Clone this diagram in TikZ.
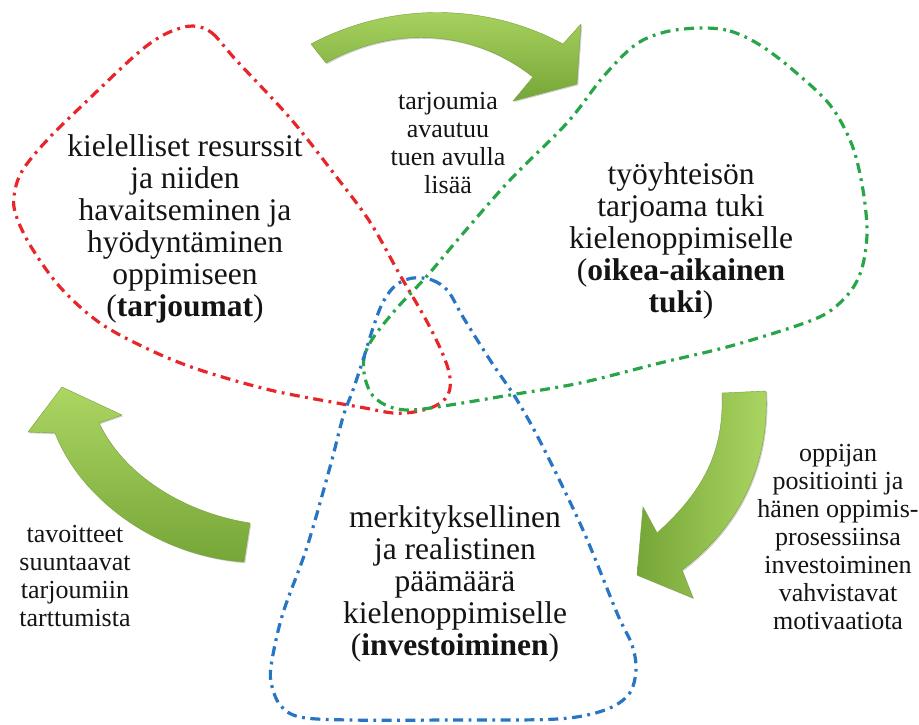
\documentclass[tikz,border=0pt]{standalone}
\usepackage{fontspec}
\setmainfont{Liberation Serif}
\usetikzlibrary{shadows}
\definecolor{redline}{RGB}{232,38,42}
\definecolor{greenline}{RGB}{40,165,72}
\definecolor{blueline}{RGB}{38,118,195}
\definecolor{arrowlight}{RGB}{172,214,98}
\definecolor{arrowdark}{RGB}{118,166,56}
\definecolor{arrowedge}{RGB}{120,160,60}
\definecolor{txt}{RGB}{20,20,20}
\tikzset{
  zone/.style={line width=3.2pt, dash pattern=on 10pt off 5.5pt on 2.8pt off 5.5pt},
  bigarrow/.style={draw=arrowedge, line width=0.4pt, line join=round,
    drop shadow={opacity=0.35, shadow xshift=1.2pt, shadow yshift=-1.2pt}},
  maintext/.style={align=center, text=txt, font=\fontsize{31.5}{32}\selectfont, inner sep=0pt},
  smalltext/.style={align=center, text=txt, font=\fontsize{26}{28}\selectfont, inner sep=0pt}
}
\begin{document}
\begin{tikzpicture}[x=1pt,y=-1pt]
\useasboundingbox[fill=white] (0,0) rectangle (919,724);

% curved green arrows
\path[bigarrow, top color=arrowlight, bottom color=arrowdark]
  (311,44) .. controls (390,2) and (485,2) .. (563,44)
  -- (581,24) -- (577,84) -- (513,101) -- (533,77)
  .. controls (470,27) and (390,27) .. (326,63) -- cycle;

\path[bigarrow, left color=arrowdark, right color=arrowlight]
  (722,393) -- (766,391)
  .. controls (770,470) and (735,530) .. (682,570)
  -- (693,598) -- (637,575) -- (643,507) -- (657,533)
  .. controls (705,490) and (724,450) .. (722,393) -- cycle;

\path[bigarrow, top color=arrowlight, bottom color=arrowdark]
  (62,387) -- (122,415) -- (99,423)
  .. controls (122,472) and (180,512) .. (250,523)
  -- (244,562)
  .. controls (160,556) and (82,502) .. (55,433)
  -- (28,432) -- cycle;

% dash-dot zones
\draw[zone, redline] plot[smooth cycle, tension=0.55] coordinates {
  (193,26) (212,33) (236,60) (290,118) (335,175) (370,222) (400,275) (425,318)
  (441,350) (449,372) (450,388) (445,399) (433,407) (414,412) (393,413) (365,408) (337,403)
  (270,390) (200,370) (150,350) (100,323) (60,287) (30,245) (15,212)
  (15,190) (24,168) (50,137) (90,98) (130,60) (152,42) (172,31)};

\draw[zone, greenline] plot[smooth cycle, tension=0.55] coordinates {
  (700,28) (730,31) (760,45) (793,70) (830,105) (852,145) (863,190) (867,233)
  (862,268) (850,292) (827,313) (793,327) (727,347) (660,363) (580,383) (510,395)
  (450,405) (412,410) (390,407) (373,396) (365,378) (364,358) (373,338) (397,308)
  (427,276) (460,237) (510,180) (567,123) (603,77) (635,45) (665,32)};

\draw[zone, blueline] plot[smooth cycle, tension=0.55] coordinates {
  (413,278) (432,280) (448,291) (463,317) (490,360) (517,400) (543,447) (583,530)
  (617,613) (632,645) (636,670) (629,694) (605,710) (557,719) (450,720)
  (350,720) (300,717) (280,705) (271,682) (272,660) (283,613) (307,547) (330,467)
  (343,417) (353,390) (363,360) (373,328) (383,302) (396,285)};

% texts
\node[maintext] (res) at (185,229) {kielelliset resurssit\\ja niiden\\havaitseminen ja\\hyödyntäminen\\oppimiseen\\(\textbf{tarjoumat})};
\node[maintext] (tuki) at (681,241) {työyhteisön\\tarjoama tuki\\kielenoppimiselle\\(\textbf{oikea-aikainen}\\\textbf{tuki})};
\node[maintext] (inv) at (455,584) {merkityksellinen\\ja realistinen\\päämäärä\\kielenoppimiselle\\(\textbf{investoiminen})};

\node[smalltext] (top) at (448,143) {tarjoumia\\avautuu\\tuen avulla\\lisää};
\node[smalltext] (right) at (838,537) {oppijan\\positiointi ja\\hänen oppimis-\\prosessiinsa\\investoiminen\\vahvistavat\\motivaatiota};
\node[smalltext] (left) at (75,576) {tavoitteet\\suuntaavat\\tarjoumiin\\tarttumista};
\end{tikzpicture}
\end{document}
